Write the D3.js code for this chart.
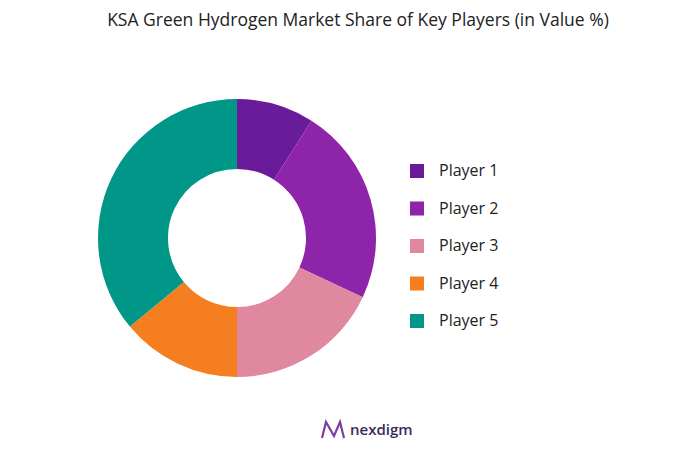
<!DOCTYPE html>
<html><head><meta charset="utf-8">
<script src="https://cdn.jsdelivr.net/npm/d3@7"></script>
<style>body{margin:0;background:#fff}svg{font-family:"Open Sans","Noto Sans",sans-serif}</style>
</head><body><svg id="chart" width="682" height="449"></svg>
<script>
const players = ['Player 1', 'Player 2', 'Player 3', 'Player 4', 'Player 5'];
const shares = [9, 23, 18, 14, 36];
const colors = ['#6a1b9a', '#8e24aa', '#e088a0', '#f57f20', '#009688'];

const svg = d3.select('#chart');
svg.append('text').attr('x', 358).attr('y', 26).attr('text-anchor', 'middle')
  .style('font-size', '17.5px').attr('fill', '#222')
  .text('KSA Green Hydrogen Market Share of Key Players (in Value %)');

const data = players.map((p, i) => ({ name: p, value: shares[i] }));
const pie = d3.pie().sort(null).value(d => d.value);
const arc = d3.arc().innerRadius(69).outerRadius(139);
const z = d3.scaleOrdinal(players, colors);

const g = svg.append('g').attr('transform', 'translate(237,238)');
g.selectAll('path').data(pie(data)).enter().append('path')
  .attr('d', arc).attr('fill', d => z(d.data.name));

const legend = svg.selectAll('.leg').data(players).enter().append('g')
  .attr('class', 'leg')
  .attr('transform', (d, i) => `translate(410,${164 + i * 37.5})`);
legend.append('rect').attr('width', 14).attr('height', 14).attr('fill', d => z(d));
legend.append('text').attr('x', 29).attr('y', 12).style('font-size', '16px')
  .attr('fill', '#222').text(d => d);

const logo = svg.append('g').attr('transform', 'translate(320,420)');
logo.append('path').attr('d', 'M2,18 L6,2 L14,16 L20,2 L24,18')
  .attr('fill', 'none').attr('stroke', '#7b3fa0').attr('stroke-width', 2.2);
logo.append('text').attr('x', 30).attr('y', 15).style('font-size', '15px')
  .style('font-weight', 600).attr('fill', '#3a2a5a').text('nexdigm');
</script></body></html>
